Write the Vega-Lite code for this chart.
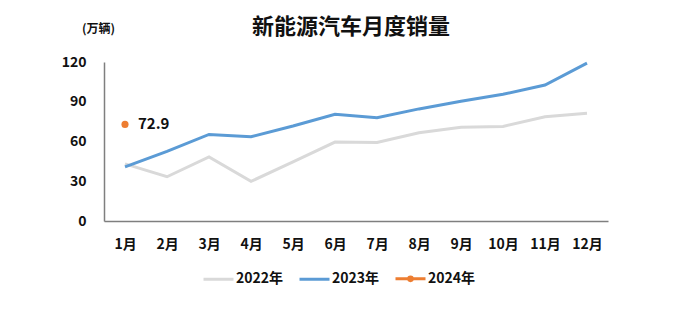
{
  "$schema": "https://vega.github.io/schema/vega-lite/v6.json",
  "width": 504,
  "height": 159,
  "autosize": {"type": "none"},
  "padding": {"left": 104, "top": 62, "right": 85, "bottom": 94},
  "background": "white",
  "config": {
    "view": {"stroke": null},
    "font": "Noto Sans CJK SC"
  },
  "title": {
    "text": "新能源汽车月度销量",
    "anchor": "middle",
    "frame": "group",
    "dx": -5,
    "offset": -17,
    "fontSize": 22,
    "fontWeight": "bold",
    "color": "#111111",
    "font": "Noto Sans CJK SC"
  },
  "data": {
    "values": [
      {"month": "1月", "series": "2022年", "value": 43.1},
      {"month": "2月", "series": "2022年", "value": 33.4},
      {"month": "3月", "series": "2022年", "value": 48.4},
      {"month": "4月", "series": "2022年", "value": 29.9},
      {"month": "5月", "series": "2022年", "value": 44.7},
      {"month": "6月", "series": "2022年", "value": 59.6},
      {"month": "7月", "series": "2022年", "value": 59.3},
      {"month": "8月", "series": "2022年", "value": 66.6},
      {"month": "9月", "series": "2022年", "value": 70.8},
      {"month": "10月", "series": "2022年", "value": 71.4},
      {"month": "11月", "series": "2022年", "value": 78.6},
      {"month": "12月", "series": "2022年", "value": 81.4},
      {"month": "1月", "series": "2023年", "value": 40.8},
      {"month": "2月", "series": "2023年", "value": 52.5},
      {"month": "3月", "series": "2023年", "value": 65.3},
      {"month": "4月", "series": "2023年", "value": 63.6},
      {"month": "5月", "series": "2023年", "value": 71.7},
      {"month": "6月", "series": "2023年", "value": 80.6},
      {"month": "7月", "series": "2023年", "value": 78.0},
      {"month": "8月", "series": "2023年", "value": 84.6},
      {"month": "9月", "series": "2023年", "value": 90.4},
      {"month": "10月", "series": "2023年", "value": 95.6},
      {"month": "11月", "series": "2023年", "value": 102.6},
      {"month": "12月", "series": "2023年", "value": 119.1},
      {"month": "1月", "series": "2024年", "value": 72.9}
    ]
  },
  "encoding": {
    "x": {
      "field": "month",
      "type": "ordinal",
      "sort": ["1月","2月","3月","4月","5月","6月","7月","8月","9月","10月","11月","12月"],
      "scale": {"type": "point", "padding": 0.5},
      "axis": {
        "title": null,
        "labelAngle": 0,
        "ticks": false,
        "domainColor": "#7f7f7f",
        "domainWidth": 1.5,
        "labelFontSize": 14,
        "labelFontWeight": "bold",
        "labelColor": "#111111",
        "labelPadding": 16,
        "grid": false
      }
    },
    "y": {
      "field": "value",
      "type": "quantitative",
      "scale": {"domain": [0, 120]},
      "axis": {
        "title": "(万辆)",
        "titleAngle": 0,
        "titleX": -6,
        "titleY": -34,
        "titleAlign": "center",
        "titleBaseline": "middle",
        "titleFontSize": 12,
        "titleFontWeight": "bold",
        "titleColor": "#111111",
        "values": [0, 30, 60, 90, 120],
        "ticks": false,
        "grid": false,
        "domainColor": "#7f7f7f",
        "domainWidth": 1.5,
        "labelFontSize": 14,
        "labelFontWeight": "bold",
        "labelColor": "#111111",
        "labelPadding": 18
      }
    },
    "color": {
      "field": "series",
      "type": "nominal",
      "scale": {
        "domain": ["2022年", "2023年", "2024年"],
        "range": ["#d9d9d9", "#5b9bd5", "#ed7d31"]
      },
      "legend": {
        "title": null,
        "orient": "none",
        "direction": "horizontal",
        "legendX": 98,
        "legendY": 200,
        "symbolType": "stroke",
        "symbolSize": 900,
        "symbolStrokeWidth": 3,
        "labelFontSize": 14,
        "labelFontWeight": "bold",
        "labelColor": "#111111",
        "labelOffset": 1,
        "columnPadding": 9,
        "encode": {
          "symbols": {
            "update": {
              "shape": {"signal": "datum.value === '2024年' ? 'M-1,0L1,0M0.12,0A0.12,0.12 0 1,1 -0.12,0A0.12,0.12 0 1,1 0.12,0Z' : 'stroke'"}
            }
          }
        }
      }
    }
  },
  "layer": [
    {
      "mark": {"type": "line", "strokeWidth": 3}
    },
    {
      "transform": [{"filter": "datum.series === '2024年'"}],
      "mark": {"type": "point", "filled": true, "size": 50, "opacity": 1}
    },
    {
      "transform": [{"filter": "datum.series === '2024年'"}],
      "mark": {"type": "text", "align": "left", "dx": 13, "fontSize": 15, "fontWeight": "bold", "color": "#111111"},
      "encoding": {
        "text": {"field": "value", "type": "quantitative", "format": ".1f"},
        "color": {"value": "#111111"}
      }
    }
  ]
}
